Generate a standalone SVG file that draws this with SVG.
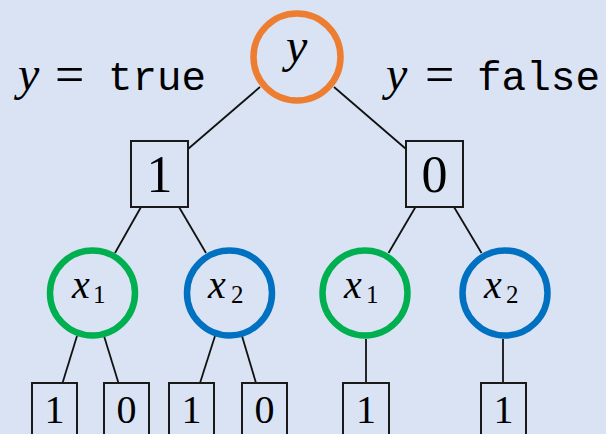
<svg xmlns="http://www.w3.org/2000/svg" width="606" height="434" viewBox="0 0 606 434">
<style>
.ring{fill:none;stroke-width:6.5}
.box{fill:#DAE3F3;stroke:#1a1a1a;stroke-width:2}
.edge{stroke:#111;stroke-width:1.8;fill:none}
.mi{font-family:'Liberation Serif','Times New Roman','DejaVu Serif',serif;font-style:italic;fill:#000}
.rm{font-family:'Liberation Serif','Times New Roman','DejaVu Serif',serif;fill:#000}
.tt{font-family:'Liberation Mono','Courier New','DejaVu Sans Mono',monospace;fill:#000}
</style>
<rect width="606" height="434" fill="#DAE3F3"/>
<g id="label-true">
<text class="mi" x="18" y="90" font-size="48">y</text>
<text class="rm" x="55" y="92" font-size="52">=</text>
<text class="tt" x="108" y="90" font-size="40" textLength="98" lengthAdjust="spacingAndGlyphs">true</text>
</g>
<g id="label-false">
<text class="mi" x="386" y="90" font-size="48">y</text>
<text class="rm" x="425" y="92" font-size="52">=</text>
<text class="tt" x="477" y="90" font-size="40" textLength="123" lengthAdjust="spacingAndGlyphs">false</text>
</g>
<g id="connectors">
<line class="edge" x1="260" y1="87" x2="188" y2="149"/>
<line class="edge" x1="334" y1="87" x2="406" y2="149"/>
<line class="edge" x1="141" y1="207" x2="115" y2="253"/>
<line class="edge" x1="179" y1="207" x2="206" y2="253"/>
<line class="edge" x1="415.5" y1="207" x2="388.5" y2="253"/>
<line class="edge" x1="454" y1="207" x2="481.5" y2="253"/>
<line class="edge" x1="77" y1="336" x2="62.5" y2="383"/>
<line class="edge" x1="104" y1="336" x2="118.5" y2="383"/>
<line class="edge" x1="215" y1="336" x2="200" y2="383"/>
<line class="edge" x1="242" y1="336" x2="256" y2="383"/>
<line class="edge" x1="366" y1="339" x2="366" y2="383"/>
<line class="edge" x1="503" y1="339" x2="503" y2="383"/>
</g>
<g id="root-y">
<circle class="ring" cx="297" cy="57" r="43.5" stroke="#ED7D31"/>
<text class="mi" x="286" y="62" font-size="48">y</text>
</g>
<g id="box-1">
<rect class="box" x="131" y="141" width="57" height="66"/>
<text class="rm" x="159.5" y="192" font-size="52" text-anchor="middle">1</text>
</g>
<g id="box-0">
<rect class="box" x="406" y="141" width="57" height="66"/>
<text class="rm" x="434.5" y="192" font-size="52" text-anchor="middle">0</text>
</g>
<g id="x1-left">
<circle class="ring" cx="92.5" cy="293" r="42.5" stroke="#00B050"/>
<text class="mi" x="72" y="298" font-size="40">x</text>
<text class="rm" x="93" y="303" font-size="25">1</text>
</g>
<g id="x2-left">
<circle class="ring" cx="229.5" cy="293" r="42.5" stroke="#0070C0"/>
<text class="mi" x="208" y="298" font-size="40">x</text>
<text class="rm" x="231" y="303" font-size="25">2</text>
</g>
<g id="x1-right">
<circle class="ring" cx="365" cy="293" r="42.5" stroke="#00B050"/>
<text class="mi" x="344" y="298" font-size="40">x</text>
<text class="rm" x="366" y="303" font-size="25">1</text>
</g>
<g id="x2-right">
<circle class="ring" cx="505" cy="293" r="42.5" stroke="#0070C0"/>
<text class="mi" x="484" y="298" font-size="40">x</text>
<text class="rm" x="506" y="303" font-size="25">2</text>
</g>
<g id="leaf-a">
<rect class="box" x="32" y="383" width="45" height="60"/>
<text class="rm" x="54.5" y="423" font-size="40" text-anchor="middle">1</text>
</g>
<g id="leaf-b">
<rect class="box" x="104" y="383" width="45" height="60"/>
<text class="rm" x="126.5" y="423" font-size="40" text-anchor="middle">0</text>
</g>
<g id="leaf-c">
<rect class="box" x="169" y="383" width="45" height="60"/>
<text class="rm" x="191.5" y="423" font-size="40" text-anchor="middle">1</text>
</g>
<g id="leaf-d">
<rect class="box" x="242" y="383" width="45" height="60"/>
<text class="rm" x="264.5" y="423" font-size="40" text-anchor="middle">0</text>
</g>
<g id="leaf-e">
<rect class="box" x="343" y="383" width="46" height="60"/>
<text class="rm" x="366" y="423" font-size="40" text-anchor="middle">1</text>
</g>
<g id="leaf-f">
<rect class="box" x="481" y="383" width="45" height="60"/>
<text class="rm" x="503.5" y="423" font-size="40" text-anchor="middle">1</text>
</g>
</svg>
